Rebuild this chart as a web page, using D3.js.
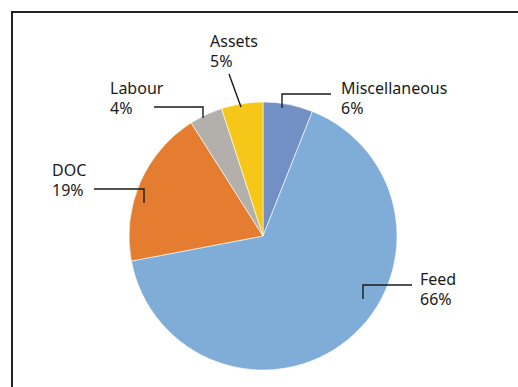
<!DOCTYPE html>
<html>
<head>
<meta charset="utf-8">
<script src="https://cdn.jsdelivr.net/npm/d3@7"></script>
<style>
  body { margin: 0; background: #fff; }
  svg text { font-family: "Noto Sans", sans-serif; font-size: 16px; fill: #1a1a1a; }
</style>
</head>
<body>
<svg id="chart" width="518" height="387"></svg>
<script>
// slices, clockwise from 12 o'clock
var categories = ["Miscellaneous", "Feed", "DOC", "Labour", "Assets"]
var shares = [6, 66, 19, 4, 5]
var colors = ["#7390c4", "#80add7", "#e57d31", "#b3afaa", "#f6c619"]

// label placement (text origin + leader line), picked by hand like the original
var labelPos = {
  "Miscellaneous": {x: 341, y: 94, leader: [[331, 94], [282, 94], [282, 108]]},
  "Feed":          {x: 420, y: 285, leader: [[412, 285], [363, 285], [363, 299]]},
  "DOC":           {x: 52, y: 176, leader: [[94, 189], [144, 189], [144, 203]]},
  "Labour":        {x: 110, y: 94, leader: [[154, 107], [203, 107], [203, 118]]},
  "Assets":        {x: 210, y: 47, leader: [[229, 74], [241, 107]]}
}

var svg = d3.select("#chart")
var cx = 263, cy = 236, radius = 134

// outer frame (runs off the right / bottom of the picture)
svg.append("path")
  .attr("d", "M 12,400 L 12,12 L 530,12")
  .attr("fill", "none")
  .attr("stroke", "#222")
  .attr("stroke-width", 2)

var data = categories.map(function(c, i){ return {name: c, value: shares[i], color: colors[i]} })

var pie = d3.pie().sort(null).value(function(d){ return d.value })
var arc = d3.arc().innerRadius(0).outerRadius(radius)

var g = svg.append("g").attr("transform", "translate(" + cx + "," + cy + ")")
g.selectAll(".slice").data(pie(data)).enter().append("path")
  .attr("class", "slice")
  .attr("d", arc)
  .attr("fill", function(d){ return d.data.color })
  .attr("stroke", "#fff")
  .attr("stroke-width", 0.6)

var line = d3.line()
var labels = svg.append("g")
data.forEach(function(d){
  var p = labelPos[d.name]
  labels.append("path")
    .attr("d", line(p.leader))
    .attr("fill", "none")
    .attr("stroke", "#1a1a1a")
    .attr("stroke-width", 1.4)
  var t = labels.append("text").attr("x", p.x).attr("y", p.y)
  t.append("tspan").attr("x", p.x).text(d.name)
  t.append("tspan").attr("x", p.x).attr("dy", 20).text(d.value + "%")
})
</script>
</body>
</html>
